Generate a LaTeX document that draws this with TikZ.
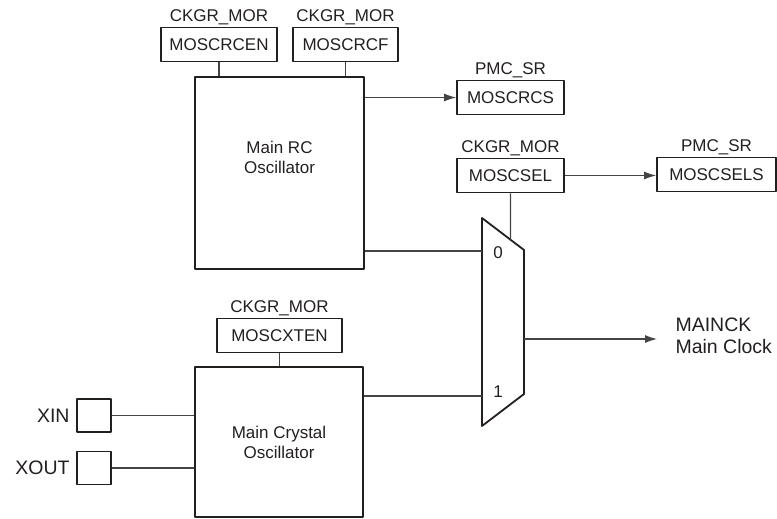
\documentclass[tikz,border=0pt]{standalone}
\usepackage{fontspec}
\setmainfont{Liberation Sans}
\usepackage{xcolor}
\usetikzlibrary{arrows.meta}
\definecolor{InkBlack}{RGB}{35,31,32}
\definecolor{WireGray}{RGB}{68,68,68}

\begin{document}
\begin{tikzpicture}[x=1pt,y=-1pt,
  font=\fontsize{17}{20}\selectfont, text=InkBlack,
  bigtext/.style={font=\fontsize{19.5}{22}\selectfont},
  regbox/.style={draw=InkBlack, line width=1.8pt, line join=round,
    minimum height=34pt, inner sep=0pt},
  oscbox/.style={draw=InkBlack, line width=1.8pt, line join=round, inner sep=0pt},
  padbox/.style={draw=InkBlack, line width=1.8pt, line join=round,
    minimum width=34pt, minimum height=33pt, inner sep=0pt},
  reglbl/.style={label={[label distance=-2pt]above:#1}},
  wire/.style={WireGray, line width=1.1pt},
  arr/.style={wire, -{Latex[length=12pt,width=8pt]}}]
  \useasboundingbox (0,0) rectangle (777,519);

  % oscillators
  \node[oscbox, minimum width=169pt, minimum height=192pt] (rc) at (279.5,173) {};
  \node[align=center] (rctext) at (279.5,157) {Main RC\\Oscillator};
  \node[oscbox, minimum width=168pt, minimum height=150pt, align=center]
    (xosc) at (279,442) {Main Crystal\\Oscillator};

  % register bits
  \node[regbox, minimum width=116pt, reglbl=CKGR\_MOR] (rcen) at (219,44.5) {MOSCRCEN};
  \node[regbox, minimum width=105pt, reglbl=CKGR\_MOR] (rcf) at (345.5,44.5) {MOSCRCF};
  \node[regbox, minimum width=107pt, reglbl=PMC\_SR] (rcs) at (510.5,97.5) {MOSCRCS};
  \node[regbox, minimum width=107pt, reglbl=CKGR\_MOR] (sel) at (510.5,175.5) {MOSCSEL};
  \node[regbox, minimum width=119pt, reglbl=PMC\_SR] (sels) at (716.5,174.5) {MOSCSELS};
  \node[regbox, minimum width=125pt, reglbl=CKGR\_MOR] (xten) at (279.5,335.5) {MOSCXTEN};

  % crystal pins
  \node[padbox, label={[bigtext, label distance=3pt]left:XIN}] (xin) at (94,415.5) {};
  \node[padbox, label={[bigtext, label distance=3pt]left:XOUT}] (xout) at (94,468) {};

  % multiplexer
  \coordinate (mtl) at (482,218);
  \coordinate (mtr) at (524,250);
  \coordinate (mbr) at (524,394);
  \coordinate (mbl) at (482,426);
  \coordinate (m0) at (482,251);
  \coordinate (m1) at (482,396);
  \coordinate (mout) at (524,339);
  \draw[InkBlack, line width=1.8pt, line join=round]
    (mtl) -- (mtr) -- (mbr) -- (mbl) -- cycle;
  \node (in0) at (498,253) {0};
  \node (in1) at (498,392) {1};
  \node[bigtext, align=left, anchor=west] (mainck) at (672,336) {MAINCK\\Main Clock};

  % wires
  \draw[wire] (rcen.south) -- (rcen.south |- rc.north);
  \draw[wire] (rcf.south) -- (rcf.south |- rc.north);
  \draw[wire] (xten.south) -- (xten.south |- xosc.north);
  \draw[wire] (sel.south) -- (intersection of sel.north--sel.south and mtl--mtr);
  \draw[arr] (rcs.west -| rc.east) -- (rcs.west);
  \draw[arr] (sel.east) -- (sel.east -| sels.west);
  \draw[wire] (m0 -| rc.east) -- (m0);
  \draw[wire] (m1 -| xosc.east) -- (m1);
  \draw[wire] (xin.east) -- (xin.east -| xosc.west);
  \draw[wire] (xout.east) -- (xout.east -| xosc.west);
  \draw[arr] (mout) -- ([xshift=-15pt]mout -| mainck.west);
\end{tikzpicture}
\end{document}
